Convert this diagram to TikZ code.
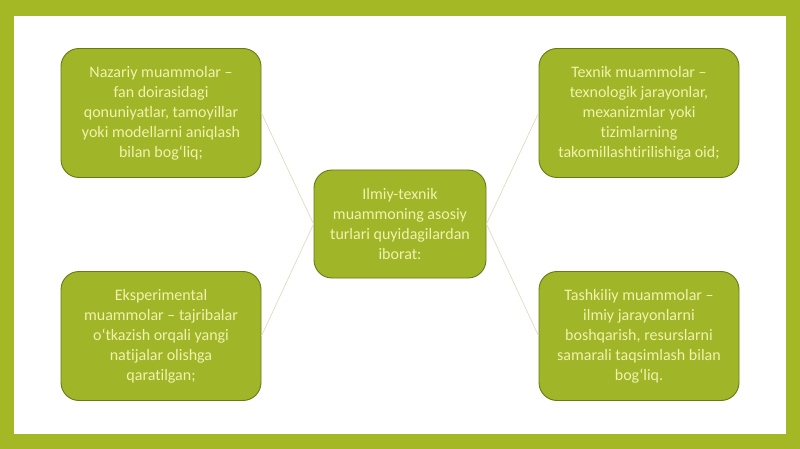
\documentclass[tikz,border=0pt]{standalone}
\usepackage{fontspec}
\setmainfont[Ligatures=NoCommon]{Carlito}
\definecolor{framegreen}{RGB}{163,184,36}
\definecolor{boxgreen}{RGB}{160,181,40}
\definecolor{boxline}{RGB}{104,122,22}
\definecolor{boxtext}{RGB}{242,242,172}
\definecolor{linktan}{RGB}{222,214,186}

\begin{document}
\begin{tikzpicture}[x=1pt,y=-1pt,
        card/.style={
            draw=boxline,
            line width=0.9pt,
            fill=boxgreen,
            rounded corners=18pt,
            text=boxtext,
            align=center,
            inner sep=0pt,
            font=\fontsize{16}{20}\selectfont
        },
        link/.style={draw=linktan,line width=0.6pt}
    ]
        \fill [framegreen] (0,0) rectangle (800,449);
        \fill [white] (14,16) rectangle (786,434);

        \node [card,minimum width=172pt,minimum height=108pt] (core) at (400,224)
            {Ilmiy-texnik\\muammoning asosiy\\turlari quyidagilardan\\iborat:};
        \node [card,minimum width=200pt,minimum height=129pt] (theory) at (161,113)
            {Nazariy muammolar –\\fan doirasidagi\\qonuniyatlar, tamoyillar\\yoki modellarni aniqlash\\bilan bog‘liq;};
        \node [card,minimum width=200pt,minimum height=129pt] (techn) at (639,113)
            {Texnik muammolar –\\texnologik jarayonlar,\\mexanizmlar yoki\\tizimlarning\\takomillashtirilishiga oid;};
        \node [card,minimum width=200pt,minimum height=129pt] (exper) at (161,336)
            {Eksperimental\\muammolar – tajribalar\\o‘tkazish orqali yangi\\natijalar olishga\\qaratilgan;};
        \node [card,minimum width=200pt,minimum height=129pt] (orga) at (639,336)
            {Tashkiliy muammolar –\\ilmiy jarayonlarni\\boshqarish, resurslarni\\samarali taqsimlash bilan\\bog‘liq.};

        \draw [link] (theory.east) -- (core.west);
        \draw [link] (exper.east) -- (core.west);
        \draw [link] (core.east) -- (techn.west);
        \draw [link] (core.east) -- (orga.west);
    \end{tikzpicture}
\end{document}
